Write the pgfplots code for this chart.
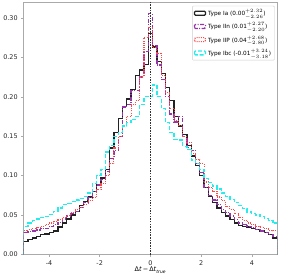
\documentclass[border=0pt]{standalone}
\usepackage{pgfplots}
\usepackage{pgfplotstable}
\pgfplotsset{compat=1.18}
\usepackage{fontspec}
\setmainfont{DejaVu Sans}
\definecolor{cIa}{HTML}{222222}
\definecolor{cIIn}{HTML}{9535A8}
\definecolor{cIIP}{HTML}{FF4A4A}
\definecolor{cIbc}{HTML}{22EEEE}
\definecolor{spine}{HTML}{AAAAAA}
\pgfplotstableread{
x ia iin iip ibc
-5.0000 0 0 0 0
-5.0000 0.017 0.028 0.030 0.036
-4.8305 0.019 0.029 0.032 0.040
-4.6610 0.021 0.030 0.033 0.043
-4.4915 0.023 0.031 0.034 0.045
-4.3220 0.025 0.033 0.036 0.047
-4.1525 0.026 0.033 0.038 0.048
-3.9831 0.028 0.036 0.040 0.051
-3.8136 0.030 0.038 0.042 0.055
-3.6441 0.035 0.041 0.045 0.059
-3.4746 0.040 0.045 0.047 0.063
-3.3051 0.045 0.049 0.050 0.065
-3.1356 0.050 0.052 0.053 0.067
-2.9661 0.055 0.055 0.057 0.069
-2.7966 0.062 0.060 0.060 0.071
-2.6271 0.067 0.066 0.064 0.074
-2.4576 0.073 0.072 0.068 0.078
-2.2881 0.080 0.080 0.072 0.090
-2.1186 0.088 0.088 0.082 0.100
-1.9492 0.097 0.095 0.090 0.108
-1.7797 0.108 0.105 0.100 0.130
-1.6102 0.135 0.122 0.115 0.138
-1.4407 0.155 0.132 0.135 0.150
-1.2712 0.172 0.150 0.150 0.155
-1.1017 0.188 0.187 0.163 0.163
-0.9322 0.197 0.190 0.175 0.167
-0.7627 0.209 0.208 0.190 0.171
-0.5932 0.227 0.208 0.195 0.175
-0.4237 0.234 0.225 0.225 0.190
-0.2542 0.241 0.257 0.275 0.200
-0.0847 0.280 0.305 0.288 0.200
0.0847 0.263 0.265 0.262 0.215
0.2542 0.245 0.240 0.255 0.200
0.4237 0.229 0.222 0.227 0.185
0.5932 0.212 0.200 0.205 0.167
0.7627 0.195 0.178 0.185 0.155
0.9322 0.175 0.168 0.170 0.146
1.1017 0.163 0.175 0.163 0.145
1.2712 0.152 0.150 0.150 0.137
1.4407 0.138 0.136 0.142 0.133
1.6102 0.125 0.132 0.128 0.120
1.7797 0.113 0.115 0.120 0.115
1.9492 0.100 0.104 0.115 0.108
2.1186 0.085 0.085 0.092 0.096
2.2881 0.074 0.075 0.085 0.091
2.4576 0.066 0.069 0.080 0.087
2.6271 0.059 0.063 0.073 0.083
2.7966 0.053 0.057 0.068 0.078
2.9661 0.049 0.053 0.061 0.074
3.1356 0.044 0.049 0.057 0.070
3.3051 0.040 0.044 0.052 0.066
3.4746 0.037 0.040 0.047 0.062
3.6441 0.036 0.038 0.043 0.058
3.8136 0.035 0.036 0.040 0.054
3.9831 0.033 0.034 0.038 0.052
4.1525 0.032 0.032 0.036 0.050
4.3220 0.030 0.030 0.034 0.048
4.4915 0.028 0.028 0.033 0.046
4.6610 0.025 0.025 0.031 0.043
4.8305 0.021 0.023 0.030 0.040
5.0000 0.021 0.023 0.030 0.040
5.0000 0 0 0 0
}\hist
\begin{document}
\begin{tikzpicture}
\begin{axis}[
  scale only axis,
  width=256pt, height=255pt,
  xmin=-5, xmax=5, ymin=0, ymax=0.32,
  xtick={-4,-2,0,2,4},
  ytick={0,0.05,0.10,0.15,0.20,0.25,0.30},
  yticklabel style={/pgf/number format/.cd,fixed,fixed zerofill,precision=2},
  /pgf/number format/assume math mode=true,
  tick label style={font=\fontsize{6.5}{7}\selectfont, text=black!85},
  tick align=outside, tick pos=left,
  major tick length=2.5pt,
  every tick/.style={spine, thin},
  axis line style={spine, line width=0.6pt},
  xlabel={Δ\textit{t}\,−\,Δ\textit{t}\textsubscript{\textit{true}}},
  xlabel style={font=\fontsize{6.5}{7}\selectfont, yshift=5pt},
  legend style={at={(0.99,0.985)}, anchor=north east, draw=black!20, rounded corners=1pt,
    font=\fontsize{5.8}{6.5}\selectfont, row sep=1.6pt, inner sep=1.5pt},
  legend cell align=left,
  legend image code/.code={\draw[#1] (0pt,-2pt) rectangle (11pt,2pt);},
  const plot mark left,
]
\addplot[cIa, line width=1.3pt, solid] table[x=x, y=ia] {\hist};
\addlegendentry{Type Ia (0.00$^{+2.32}_{-2.26}$)}
\addplot[cIIn, line width=1.3pt, dash pattern=on 4pt off 1.5pt on 1pt off 1.5pt] table[x=x, y=iin] {\hist};
\addlegendentry{Type IIn (0.01$^{+2.27}_{-2.20}$)}
\addplot[cIIP, line width=1.1pt, dash pattern=on 1pt off 1.2pt] table[x=x, y=iip] {\hist};
\addlegendentry{Type IIP (0.04$^{+2.68}_{-2.80}$)}
\addplot[cIbc, line width=1.3pt, dash pattern=on 4pt off 2pt] table[x=x, y=ibc] {\hist};
\addlegendentry{Type Ibc (-0.01$^{+3.24}_{-3.18}$)}
\addplot[black!80, line width=0.5pt, dash pattern=on 1.5pt off 1.2pt, forget plot, sharp plot] coordinates {(0,0) (0,0.32)};
\end{axis}
\path (current axis.south east) ++(22pt,0) coordinate (rr);
\path (current axis.north east) ++(22pt,2pt) coordinate (rt);
\end{tikzpicture}
\end{document}
